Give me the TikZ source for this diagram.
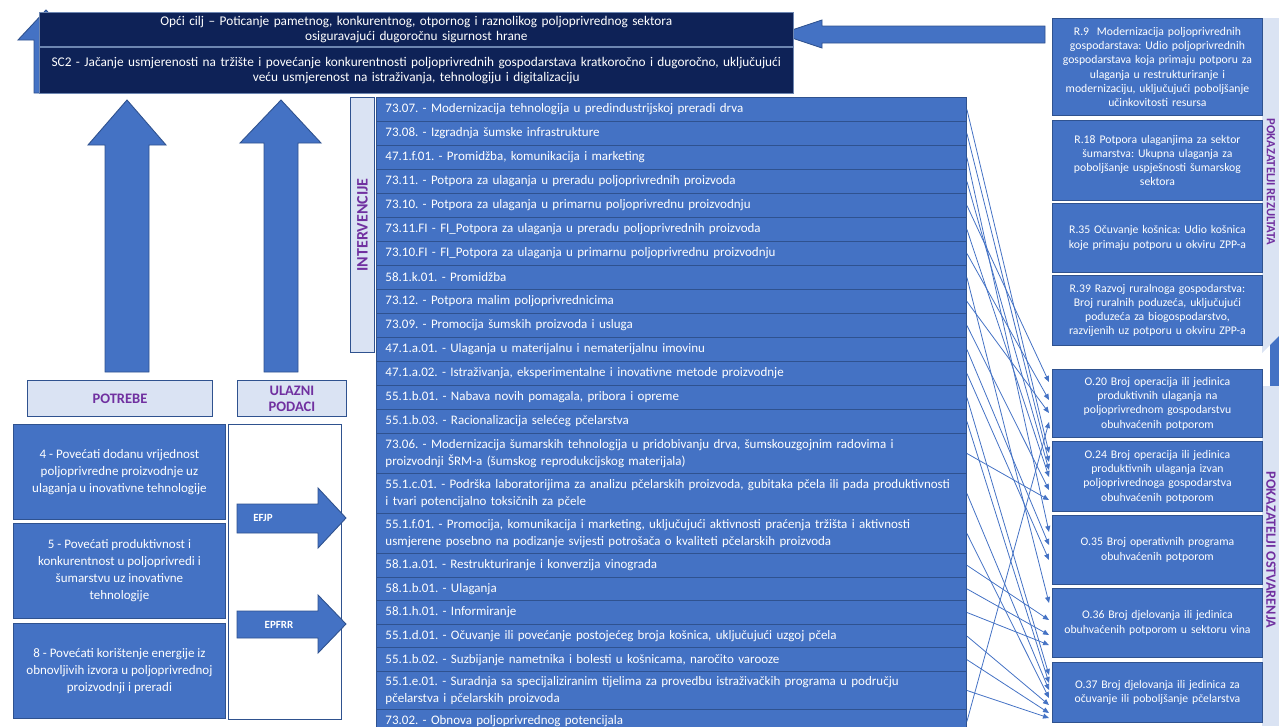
\documentclass[tikz,border=0pt]{standalone}
\usepackage{fontspec}
\setmainfont{Carlito}
\frenchspacing
\usetikzlibrary{arrows.meta,positioning}
\definecolor{needblue}{HTML}{4472C4}
\definecolor{edgeblue}{HTML}{2F528F}
\definecolor{goalnavy}{HTML}{0E2257}
\definecolor{panelgray}{HTML}{DAE3F3}
\definecolor{labelpurple}{HTML}{7030A0}
\tikzset{
  box/.style={draw=edgeblue,line width=.9pt,fill=needblue,text=white,
    align=center,inner sep=3pt,anchor=north west},
  goal/.style={box,fill=goalnavy,draw=edgeblue!70!white,line width=.6pt,
    text width=748pt,font=\fontsize{13.3}{15.5}\selectfont},
  irow/.style={box,align=left,inner xsep=9pt,text width=572pt,
    font=\fontsize{13}{17.5}\selectfont},
  needbox/.style={box,minimum width=212pt,minimum height=95pt,
    font=\fontsize{13}{17}\selectfont},
  rbox/.style={box,text width=204pt,font=\fontsize{11.7}{14.3}\selectfont},
  head/.style={draw=edgeblue,line width=.9pt,fill=panelgray,anchor=north west,
    align=center,text=labelpurple,font=\fontsize{14.5}{16}\selectfont\bfseries},
  vlabel/.style={text=labelpurple,font=\bfseries},
  blockarrow/.style={draw=edgeblue,fill=needblue,line width=.9pt},
  arrowtext/.style={text=white,font=\fontsize{11}{13}\selectfont\bfseries},
  link/.style={-{Triangle[length=6pt,width=5pt]},draw=needblue,line width=.8pt},
}
\begin{document}
\begin{tikzpicture}[x=1pt,y=-1pt]
\useasboundingbox (0,0) rectangle (1279,726);
% goals on top
\filldraw[blockarrow] (46,10) -- (74,40) -- (58,40) -- (58,93) -- (34,93) -- (34,40) -- (18,40) -- cycle;
\filldraw[blockarrow] (780,34) -- (822,20) -- (822,26) -- (1045,26) -- (1045,43) -- (822,43) -- (822,48) -- cycle;
\node[goal,minimum height=34pt] (cilj) at (39,12) {Opći cilj – Poticanje pametnog, konkurentnog, otpornog i raznolikog poljoprivrednog sektora\\osiguravajući dugoročnu sigurnost hrane};
\node[goal,minimum height=46pt] (sc2) at (39,47) {SC2 - Jačanje usmjerenosti na tržište i povećanje konkurentnosti poljoprivrednih gospodarstava kratkoročno i dugoročno, uključujući\\veću usmjerenost na istraživanja, tehnologiju i digitalizaciju};
% needs and inputs
\filldraw[blockarrow] (127,100) -- (166,145) -- (149,145) -- (149,372) -- (105,372) -- (105,145) -- (88,145) -- cycle;
\filldraw[blockarrow] (281,100) -- (321,143) -- (298,143) -- (298,372) -- (264,372) -- (264,143) -- (240,143) -- cycle;
\node[head,minimum width=185pt,minimum height=36pt] (potrebe) at (27,380) {POTREBE};
\node[head,minimum width=109pt,minimum height=36pt] (ulazni) at (237,380) {ULAZNI\\PODACI};
\node[needbox] (p4) at (13,424) {4 - Povećati dodanu vrijednost\\poljoprivredne proizvodnje uz\\ulaganja u inovativne tehnologije};
\node[needbox] (p5) at (13,523) {5 - Povećati produktivnost i\\konkurentnost u poljoprivredi i\\šumarstvu uz inovativne\\tehnologije};
\node[needbox] (p8) at (13,623) {8 - Povećati korištenje energije iz\\obnovljivih izvora u poljoprivrednoj\\proizvodnji i preradi};
\node[draw=edgeblue,line width=.9pt,fill=white,anchor=north west,minimum width=113pt,minimum height=295pt] (fondovi) at (228,424) {};
\filldraw[blockarrow] (237,504) -- (318,504) -- (318,488) -- (346,518) -- (318,548) -- (318,533) -- (237,533) -- cycle;
\filldraw[blockarrow] (237,611) -- (318,611) -- (318,595) -- (346,624) -- (318,653) -- (318,638) -- (237,638) -- cycle;
\node[arrowtext] (efjp) at (263,518) {EFJP};
\node[arrowtext] (epfrr) at (279,625) {EPFRR};
% interventions
\node[head,minimum width=24pt,minimum height=255pt] (intpanel) at (350,97) {};
\node[vlabel,rotate=90,font=\fontsize{16}{18}\selectfont\bfseries] (intlabel) at (intpanel.center) {INTERVENCIJE};
\foreach \n/\y/\h/\t in {
  1/97/24/{73.07. - Modernizacija tehnologija u predindustrijskoj preradi drva},
  2/121/24/{73.08. - Izgradnja šumske infrastrukture},
  3/145/24/{47.1.f.01. - Promidžba, komunikacija i marketing},
  4/169/24/{73.11. - Potpora za ulaganja u preradu poljoprivrednih proizvoda},
  5/193/24/{73.10. - Potpora za ulaganja u primarnu poljoprivrednu proizvodnju},
  6/217/24/{73.11.FI - FI\_Potpora za ulaganja u preradu poljoprivrednih proizvoda},
  7/241/24/{73.10.FI - FI\_Potpora za ulaganja u primarnu poljoprivrednu proizvodnju},
  8/265/24/{58.1.k.01. - Promidžba},
  9/289/24/{73.12. - Potpora malim poljoprivrednicima},
  10/313/24/{73.09. - Promocija šumskih proizvoda i usluga},
  11/337/24/{47.1.a.01. - Ulaganja u materijalnu i nematerijalnu imovinu},
  12/361/24/{47.1.a.02. - Istraživanja, eksperimentalne i inovativne metode proizvodnje},
  13/385/24/{55.1.b.01. - Nabava novih pomagala, pribora i opreme},
  14/409/24/{55.1.b.03. - Racionalizacija selećeg pčelarstva},
  15/433/40/{73.06. - Modernizacija šumarskih tehnologija u pridobivanju drva, šumskouzgojnim radovima i\\proizvodnji ŠRM-a (šumskog reprodukcijskog materijala)},
  16/473/40/{55.1.c.01. - Podrška laboratorijima za analizu pčelarskih proizvoda, gubitaka pčela ili pada produktivnosti\\i tvari potencijalno toksičnih za pčele},
  17/513/40/{55.1.f.01. - Promocija, komunikacija i marketing, uključujući aktivnosti praćenja tržišta i aktivnosti\\usmjerene posebno na podizanje svijesti potrošača o kvaliteti pčelarskih proizvoda},
  18/553/23.6/{58.1.a.01. - Restrukturiranje i konverzija vinograda},
  19/576.6/23.6/{58.1.b.01. - Ulaganja},
  20/600.2/23.6/{58.1.h.01. - Informiranje},
  21/623.8/23.6/{55.1.d.01. - Očuvanje ili povećanje postojećeg broja košnica, uključujući uzgoj pčela},
  22/647.4/23.6/{55.1.b.02. - Suzbijanje nametnika i bolesti u košnicama, naročito varooze},
  23/671/38/{55.1.e.01. - Suradnja sa specijaliziranim tijelima za provedbu istraživačkih programa u području\\pčelarstva i pčelarskih proizvoda},
  24/709/24/{73.02. - Obnova poljoprivrednog potencijala}}
  \node[irow,minimum height=\h] (i\n) at (376,\y) {\t};
% indicators
\fill[panelgray] (1262,18) -- (1279,18) -- (1279,336) -- (1262,353) -- cycle;
\fill[needblue] (1270,345) -- (1279,336) -- (1279,386) -- (1270,386) -- cycle;
\fill[panelgray] (1262,386) rectangle (1279,726);
\node[vlabel,rotate=-90,font=\fontsize{12.5}{14}\selectfont\bfseries] (rezlabel) at (1271,182) {POKAZATELJI REZULTATA};
\node[vlabel,rotate=-90,font=\fontsize{14.2}{16}\selectfont\bfseries] (ostlabel) at (1271,550) {POKAZATELJI OSTVARENJA};
\node[rbox,minimum height=97pt] (r9) at (1052,18) {R.9\ \ Modernizacija poljoprivrednih\\gospodarstava: Udio poljoprivrednih\\gospodarstava koja primaju potporu za\\ulaganja u restrukturiranje i\\modernizaciju, uključujući poboljšanje\\učinkovitosti resursa};
\node[rbox,minimum height=80pt] (r18) at (1052,120) {R.18 Potpora ulaganjima za sektor\\šumarstva: Ukupna ulaganja za\\poboljšanje uspješnosti šumarskog\\sektora};
\node[rbox,minimum height=69pt] (r35) at (1052,203) {R.35 Očuvanje košnica: Udio košnica\\koje primaju potporu u okviru ZPP-a};
\node[rbox,minimum height=70pt] (r39) at (1052,275) {R.39 Razvoj ruralnoga gospodarstva:\\Broj ruralnih poduzeća, uključujući\\poduzeća za biogospodarstvo,\\razvijenih uz potporu u okviru ZPP-a};
\node[rbox,minimum height=68pt] (o20) at (1052,369) {O.20 Broj operacija ili jedinica\\produktivnih ulaganja na\\poljoprivrednom gospodarstvu\\obuhvaćenih potporom};
\node[rbox,minimum height=70pt] (o24) at (1052,441) {O.24 Broj operacija ili jedinica\\produktivnih ulaganja izvan\\poljoprivrednoga gospodarstva\\obuhvaćenih potporom};
\node[rbox,minimum height=69pt] (o35) at (1052,515) {O.35 Broj operativnih programa\\obuhvaćenih potporom};
\node[rbox,minimum height=69pt] (o36) at (1052,588) {O.36 Broj djelovanja ili jedinica\\obuhvaćenih potporom u sektoru vina};
\node[rbox,minimum height=60pt] (o37) at (1052,662) {O.37 Broj djelovanja ili jedinica za\\očuvanje ili poboljšanje pčelarstva};
% intervention -> output links
\foreach \a/\b/\d in {i1/o24/12,i2/o24/21,i3/o35/17,i4/o24/29,i5/o20/13,i6/o24/36,i7/o20/31,i8/o36/15,
  i9/o20/44,i10/o24/49,i11/o35/30,i12/o35/45,i13/o37/13,i14/o37/21,i15/o24/59,i16/o37/28,i17/o37/36,
  i18/o36/32,i19/o36/47,i20/o36/57,i21/o37/43,i22/o37/51,i23/o37/56,i24/o20/53}
  \draw[link] (\a.east) -- ([xshift=-3pt,yshift=-\d]\b.north west);
\end{tikzpicture}
\end{document}
